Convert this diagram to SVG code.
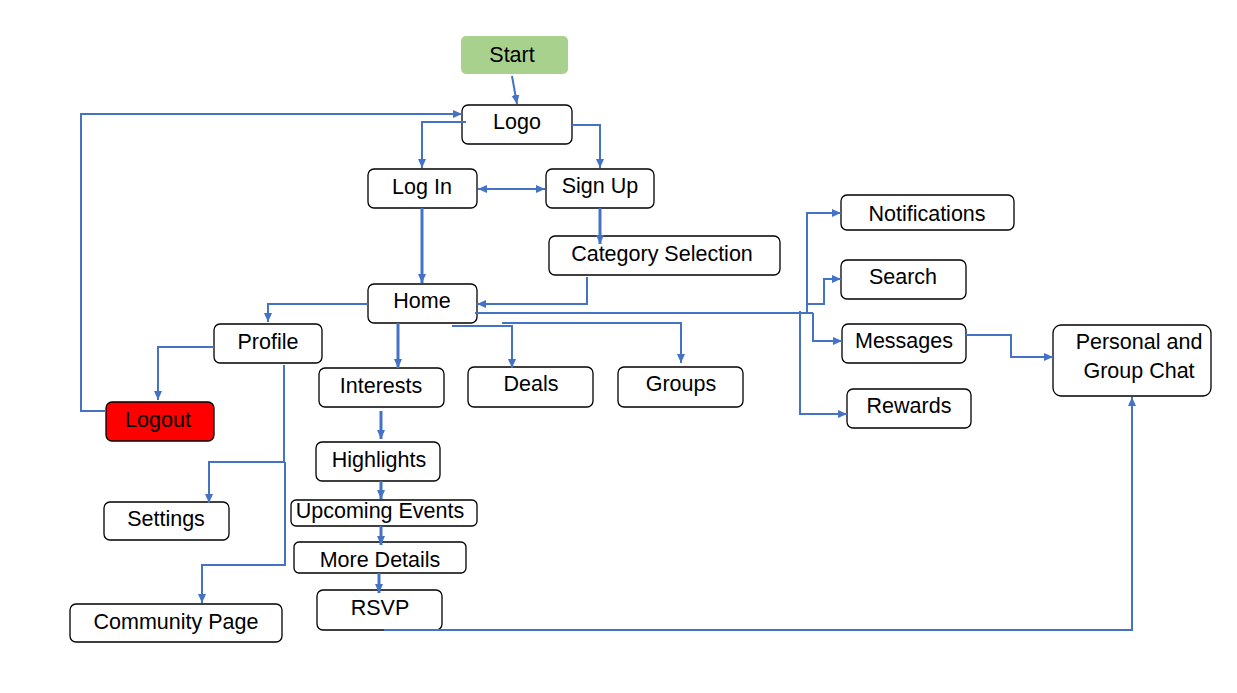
<svg xmlns="http://www.w3.org/2000/svg" width="1237" height="693" viewBox="0 0 1237 693">
<style>
.n rect{fill:#fff;stroke:#000;stroke-width:1.3}
text{font-family:"Liberation Sans",Arial,sans-serif;font-size:21.5px;fill:#000;text-anchor:middle}
.c path{fill:none;stroke:#4472c4;stroke-width:2}
.c .t{stroke-width:3}
</style>
<defs>
<marker id="a" markerUnits="userSpaceOnUse" markerWidth="10" markerHeight="10" refX="9" refY="5" orient="auto-start-reverse"><path d="M0,1 L9,5 L0,9 z" fill="#4472c4"/></marker>
</defs>
<rect width="1237" height="693" fill="#fff"/>
<g id="start"><rect x="461" y="36" width="107" height="38" rx="5" fill="#a9d18e"/><text x="512" y="62">Start</text></g>
<g class="n" id="logo"><rect x="462" y="105" width="110" height="39" rx="6"/><text x="517" y="129">Logo</text></g>
<g class="n" id="login"><rect x="368" y="169" width="109" height="39" rx="6"/><text x="422" y="194">Log In</text></g>
<g class="n" id="signup"><rect x="546" y="169" width="108" height="39" rx="6"/><text x="600" y="193">Sign Up</text></g>
<g class="n" id="category"><rect x="549" y="236" width="231" height="39" rx="6"/><text x="662" y="261">Category Selection</text></g>
<g class="n" id="home"><rect x="368" y="284" width="109" height="39" rx="6"/><text x="422" y="308">Home</text></g>
<g class="n" id="profile"><rect x="214" y="324" width="108" height="39" rx="6"/><text x="268" y="349">Profile</text></g>
<g id="logout"><rect x="106" y="402" width="108" height="39" rx="6" fill="#ff0000" stroke="#000" stroke-width="1.3"/><text x="158" y="427">Logout</text></g>
<g class="n" id="settings"><rect x="104" y="502" width="125" height="38" rx="6"/><text x="166" y="526">Settings</text></g>
<g class="n" id="community"><rect x="70" y="604" width="212" height="38" rx="6"/><text x="176" y="629">Community Page</text></g>
<g class="n" id="interests"><rect x="319" y="368" width="125" height="39" rx="6"/><text x="381" y="393">Interests</text></g>
<g class="n" id="deals"><rect x="468" y="367" width="125" height="40" rx="6"/><text x="531" y="391">Deals</text></g>
<g class="n" id="groups"><rect x="618" y="367" width="125" height="40" rx="6"/><text x="681" y="391">Groups</text></g>
<g class="n" id="highlights"><rect x="316" y="442" width="124" height="39" rx="6"/><text x="379" y="467">Highlights</text></g>
<g class="n" id="upcoming"><rect x="291" y="500" width="186" height="26" rx="5"/><text x="380" y="518">Upcoming Events</text></g>
<g class="n" id="moredetails"><rect x="294" y="542" width="172" height="31" rx="5"/><text x="380" y="567">More Details</text></g>
<g class="n" id="rsvp"><rect x="317" y="590" width="125" height="40" rx="6"/><text x="380" y="615">RSVP</text></g>
<g class="n" id="notifications"><rect x="841" y="195" width="173" height="35" rx="6"/><text x="927" y="221">Notifications</text></g>
<g class="n" id="search"><rect x="841" y="260" width="125" height="39" rx="6"/><text x="903" y="284">Search</text></g>
<g class="n" id="messages"><rect x="842" y="324" width="124" height="39" rx="6"/><text x="904" y="348">Messages</text></g>
<g class="n" id="rewards"><rect x="847" y="389" width="124" height="39" rx="6"/><text x="909" y="413">Rewards</text></g>
<g class="n" id="chat"><rect x="1053" y="325" width="158" height="71" rx="8"/><text x="1139" y="349">Personal and</text><text x="1139" y="378">Group Chat</text></g>
<g class="c" id="connectors">
<path d="M512,76 L517,104" marker-end="url(#a)"/>
<path d="M106,411 H81 V114 H462" marker-end="url(#a)"/>
<path d="M466,122 H422 V168" marker-end="url(#a)"/>
<path d="M572,125 H600 V168" marker-end="url(#a)"/>
<path d="M478,189 H545" marker-start="url(#a)" marker-end="url(#a)"/>
<path class="t" d="M422,208 V283" marker-end="url(#a)"/>
<path class="t" d="M600,208 V244" marker-end="url(#a)"/>
<path d="M587,277 V304 H477" marker-end="url(#a)"/>
<path d="M368,304 H268 V322" marker-end="url(#a)"/>
<path d="M214,347 H158 V400" marker-end="url(#a)"/>
<path d="M284,365 V462 H209 V503" marker-end="url(#a)"/>
<path d="M285,462 V565 H202 V603" marker-end="url(#a)"/>
<path class="t" d="M398,323 V368" marker-end="url(#a)"/>
<path d="M452,326 H512 V368" marker-end="url(#a)"/>
<path d="M502,323 H681 V363" marker-end="url(#a)"/>
<path d="M475,313 H813"/>
<path d="M807,313 V213 H841" marker-end="url(#a)"/>
<path d="M807,304 H824 V279 H841" marker-end="url(#a)"/>
<path d="M813,313 V341 H842" marker-end="url(#a)"/>
<path d="M800,311 V414 H847" marker-end="url(#a)"/>
<path d="M966,335 H1011 V357 H1053" marker-end="url(#a)"/>
<path d="M384,630 H1132 V397" marker-end="url(#a)"/>
<path class="t" d="M381,411 V439" marker-end="url(#a)"/>
<path class="t" d="M381,481 V499" marker-end="url(#a)"/>
<path class="t" d="M381,526 V545" marker-end="url(#a)"/>
<path class="t" d="M379,573 V593" marker-end="url(#a)"/>
</g>
</svg>
